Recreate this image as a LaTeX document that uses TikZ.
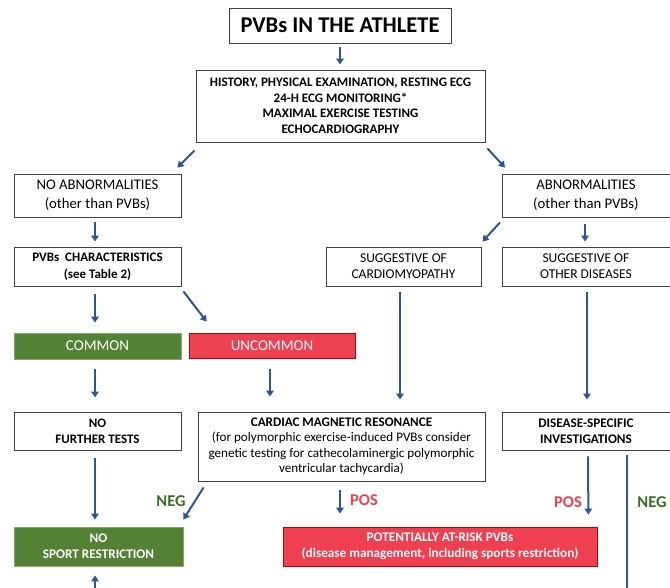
\documentclass[tikz,border=0pt]{standalone}
\usepackage{fontspec}
\setmainfont{Carlito}
\usetikzlibrary{arrows.meta,calc}
\definecolor{arrowblue}{HTML}{2F5597}
\definecolor{boxgreen}{HTML}{548235}
\definecolor{boxred}{HTML}{EE4050}
\definecolor{redborder}{HTML}{C00000}
\definecolor{neggreen}{HTML}{3F6B27}
\definecolor{boxgray}{HTML}{404040}
\begin{document}
\begin{tikzpicture}[x=1pt,y=-1pt,
  box/.style={draw=boxgray,line width=0.9pt,align=center,inner sep=0pt,fill=white},
  greenbox/.style={fill=boxgreen,draw=boxgreen!70!white,line width=0.8pt,align=center,inner sep=0pt,text=white},
  redbox/.style={fill=boxred,draw=redborder,line width=0.8pt,align=center,inner sep=0pt,text=white},
  arr/.style={draw=arrowblue,line width=2pt,-{Triangle[width=7.5pt,length=6pt]}},
  plainline/.style={draw=arrowblue,line width=2pt},
  poslab/.style={text=boxred,font=\bfseries\fontsize{16.5}{18}\selectfont},
  neglab/.style={text=neggreen,font=\bfseries\fontsize{16.5}{18}\selectfont}
]
\useasboundingbox (0,0) rectangle (670,587);
\clip (0,0) rectangle (670,587);

% nodes
\node[box,minimum width=222pt,minimum height=35pt,font=\bfseries\fontsize{22.5}{26}\selectfont] (title) at (340,25.5) {PVBs IN THE ATHLETE};
\node[box,minimum width=289pt,minimum height=72pt,font=\bfseries\fontsize{13}{15.5}\selectfont] (exam) at (340.5,106) {HISTORY, PHYSICAL EXAMINATION, RESTING ECG\\24-H ECG MONITORING*\\MAXIMAL EXERCISE TESTING\\ECHOCARDIOGRAPHY};
\node[box,minimum width=167pt,minimum height=43pt,font=\fontsize{14.7}{19}\selectfont] (noab) at (97.5,195.5) {NO ABNORMALITIES\\(other than PVBs)};
\node[box,minimum width=187pt,minimum height=43pt,anchor=west,font=\fontsize{14.7}{19}\selectfont] (ab) at (502,195.5) {\hspace*{-20pt}ABNORMALITIES\\\hspace*{-20pt}(other than PVBs)};
\node[box,minimum width=167pt,minimum height=39pt,font=\bfseries\fontsize{13}{17.5}\selectfont] (pvbc) at (97.5,266.5) {PVBs\ \ CHARACTERISTICS\\(see Table 2)};
\node[box,minimum width=155pt,minimum height=39pt,font=\fontsize{13.5}{16}\selectfont] (scardio) at (403.5,266.5) {SUGGESTIVE OF\\CARDIOMYOPATHY};
\node[box,minimum width=187pt,minimum height=39pt,anchor=west,font=\fontsize{13.5}{16}\selectfont] (sother) at (502,266.5) {\hspace*{-20pt}SUGGESTIVE OF\\\hspace*{-20pt}OTHER DISEASES};
\node[greenbox,minimum width=167pt,minimum height=26pt,font=\fontsize{15}{17}\selectfont] (common) at (97.5,346) {COMMON};
\node[redbox,minimum width=166pt,minimum height=25pt,font=\fontsize{15}{17}\selectfont] (uncommon) at (272,345.5) {UNCOMMON};
\node[box,minimum width=167pt,minimum height=38pt,font=\bfseries\fontsize{13}{16}\selectfont] (nft) at (97.5,431) {NO\\FURTHER TESTS};
\node[box,minimum width=287pt,minimum height=69pt,font=\fontsize{13.1}{15.5}\selectfont] (cmr) at (341.5,446.5) {\textbf{CARDIAC MAGNETIC RESONANCE}\\(for polymorphic exercise-induced PVBs consider\\genetic testing for cathecolaminergic polymorphic\\ventricular tachycardia)};
\node[box,minimum width=187pt,minimum height=38pt,anchor=west,font=\bfseries\fontsize{13.2}{15.5}\selectfont] (dsi) at (502,431) {\hspace*{-20pt}DISEASE-SPECIFIC\\\hspace*{-20pt}INVESTIGATIONS};
\node[greenbox,minimum width=169pt,minimum height=39pt,font=\bfseries\fontsize{13.2}{16}\selectfont] (nsr) at (98.5,546.5) {NO\\SPORT RESTRICTION};
\node[redbox,minimum width=314pt,minimum height=39pt,font=\bfseries\fontsize{13.2}{16}\selectfont] (risk) at (440,546.5) {POTENTIALLY AT-RISK PVBs\\(disease management, including sports restriction)};

% free ends
\coordinate (bottomL) at (95,592);
\coordinate (bottomR) at (627,592);

% connectors
\draw[arr] ($(title.south)+(0,4)$) -- ($(exam.north)+(-0.5,-5)$);
\draw[arr] ($(exam.south west)+(-1,8)$) -- ($(noab.north east)+(-4,-6)$);
\draw[arr] ($(exam.south east)+(2,6)$) -- ($(ab.north west)+(3,-6)$);
\draw[arr] ($(noab.south)+(-2.5,5)$) -- ($(pvbc.north)+(-2.5,-5)$);
\draw[arr] ($(ab.south west)+(-2,5)$) -- ($(scardio.north east)+(1,-5)$);
\draw[arr] ($(ab.south west)+(83,7)$) -- ($(sother.north west)+(83,-5)$);
\draw[arr] ($(pvbc.south)+(-2.5,8)$) -- ($(common.north)+(-2.5,-10)$);
\draw[arr] ($(pvbc.south east)+(2,5)$) -- ($(uncommon.north west)+(18,-11)$);
\draw[arr] ($(common.south)+(-2.5,10)$) -- ($(nft.north)+(-2.5,-14)$);
\draw[arr] ($(uncommon.south)+(-2,11)$) -- ($(cmr.north)+(-71.5,-15)$);
\draw[arr] ($(scardio.south)+(-3.5,6)$) -- ($(cmr.north)+(58.5,-12)$);
\draw[arr] ($(sother.south west)+(85,6)$) -- ($(dsi.north west)+(85,-12)$);
\draw[arr] ($(cmr.south west)+(6,6)$) -- ($(nsr.north east)+(0,-7)$);
\draw[arr] ($(cmr.south)+(-1.5,9)$) -- ($(risk.north)+(-100,-13)$);
\draw[arr] ($(dsi.south west)+(86,6)$) -- ($(risk.north east)+(-9,-12)$);
\draw[plainline] ($(dsi.south west)+(125,5)$) -- (bottomR);
\draw[arr] (bottomL) -- ($(nsr.south)+(-3.5,9)$);
\draw[arr] ($(nft.south)+(-2.5,8)$) -- ($(nsr.north)+(-3.5,-7)$);

% labels
\node[neglab] (negL) at (171,501) {NEG};
\node[poslab] (posM) at (364,500) {POS};
\node[poslab] (posR) at (568,502) {POS};
\node[neglab] (negR) at (652,502) {NEG};
\end{tikzpicture}
\end{document}
